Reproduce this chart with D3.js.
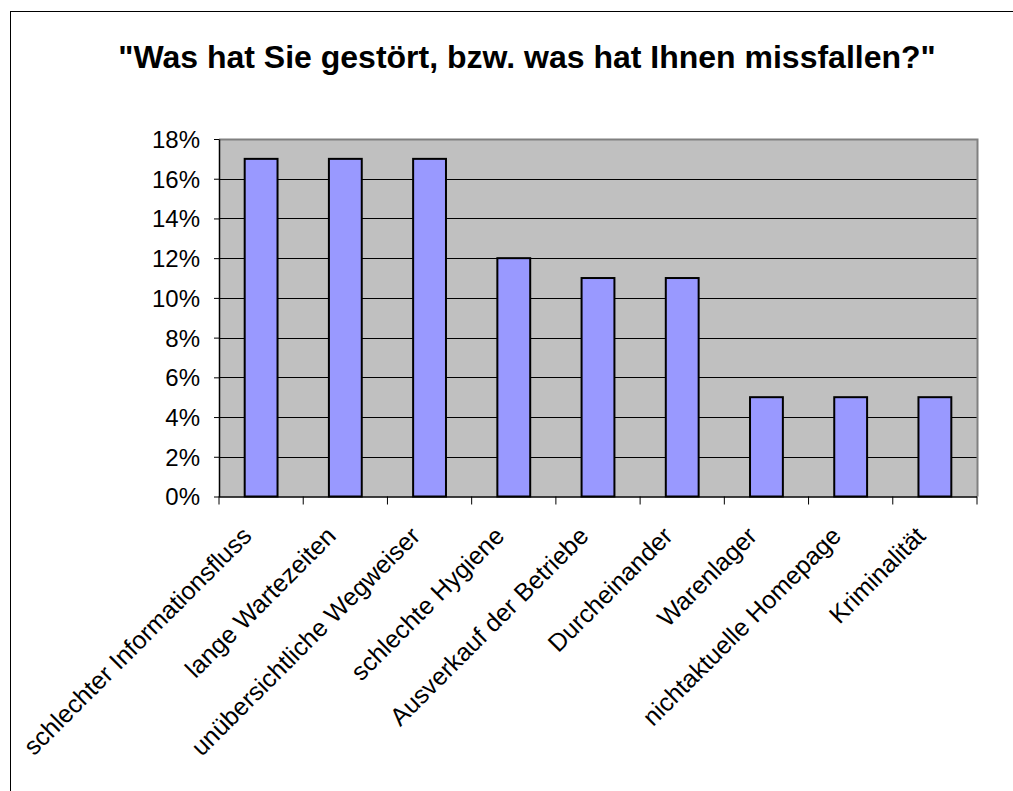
<!DOCTYPE html>
<html><head><meta charset="utf-8">
<script src="https://cdn.jsdelivr.net/npm/d3@7"></script>
<style>body{margin:0;background:#fff}svg{display:block}</style>
</head><body>
<svg id="c" width="1013" height="791"></svg>
<script>
const categories = ["schlechter Informationsfluss","lange Wartezeiten","unübersichtliche Wegweiser","schlechte Hygiene","Ausverkauf der Betriebe","Durcheinander","Warenlager","nichtaktuelle Homepage","Kriminalität"];
const values = [0.17,0.17,0.17,0.12,0.11,0.11,0.05,0.05,0.05];
const yTicks = [0,0.02,0.04,0.06,0.08,0.10,0.12,0.14,0.16,0.18];
const title = "\"Was hat Sie gestört, bzw. was hat Ihnen missfallen?\"";

const svg = d3.select("#c");
const font = "'Liberation Sans', Arial, sans-serif";
svg.append("rect").attr("x",10.5).attr("y",11.5).attr("width",1020).attr("height",800)
  .attr("fill","#fff").attr("stroke","#000").attr("stroke-width",1);

const L=219, R=977, T=139, B=496.5;
const x = d3.scaleBand().domain(categories).range([L,R]).paddingInner(0).paddingOuter(0);
const y = d3.scaleLinear().domain([0,0.18]).range([B,T]);

svg.append("rect").attr("x",L).attr("y",T).attr("width",R-L).attr("height",B-T).attr("fill","#C0C0C0");
svg.append("g").selectAll("line").data(yTicks.slice(1,-1)).join("line")
  .attr("x1",L).attr("x2",R).attr("y1",d=>Math.round(y(d))+0.5).attr("y2",d=>Math.round(y(d))+0.5)
  .attr("stroke","#000").attr("stroke-width",1);
svg.append("path").attr("d",`M${L},${T+0.5}H${R+0.5}V${B}`).attr("fill","none").attr("stroke","#808080").attr("stroke-width",2);

const bw = x.bandwidth()*0.39;
svg.append("g").selectAll("rect").data(values).join("rect")
  .attr("x",(d,i)=>x(categories[i])+x.bandwidth()/2-bw/2)
  .attr("y",d=>y(d)).attr("width",bw).attr("height",d=>B-y(d))
  .attr("fill","#9999FF").attr("stroke","#000").attr("stroke-width",2);

const yAxis = d3.axisLeft(y).tickValues(yTicks).tickFormat(d3.format(".0%")).tickSizeInner(5).tickSizeOuter(0);
const gy = svg.append("g").attr("transform",`translate(${L},0)`).call(yAxis);
gy.select(".domain").attr("stroke","#000").attr("stroke-width",1.5);
gy.selectAll(".tick line").attr("stroke","#000");
gy.selectAll(".tick text").attr("font-family",font).attr("font-size",24).attr("fill","#000").attr("x",-19).attr("dy","0.35em");

const bounds = d3.range(categories.length+1).map(i=>L+i*x.bandwidth());
svg.append("line").attr("x1",L).attr("x2",R).attr("y1",B+0.5).attr("y2",B+0.5).attr("stroke","#000").attr("stroke-width",1.5);
svg.append("g").selectAll("line").data(bounds).join("line")
  .attr("x1",d=>d).attr("x2",d=>d).attr("y1",B).attr("y2",B+8).attr("stroke","#000").attr("stroke-width",1);
svg.append("g").selectAll("text").data(categories).join("text")
  .attr("transform",d=>`translate(${x(d)+x.bandwidth()/2-8},${B+41}) rotate(-45)`)
  .attr("text-anchor","end").attr("font-family",font).attr("font-size",25).attr("fill","#000")
  .text(d=>d);

svg.append("text").attr("x",527).attr("y",68).attr("text-anchor","middle")
  .attr("font-family",font).attr("font-weight","bold").attr("font-size",32).attr("fill","#000").text(title);
</script>
</body></html>
